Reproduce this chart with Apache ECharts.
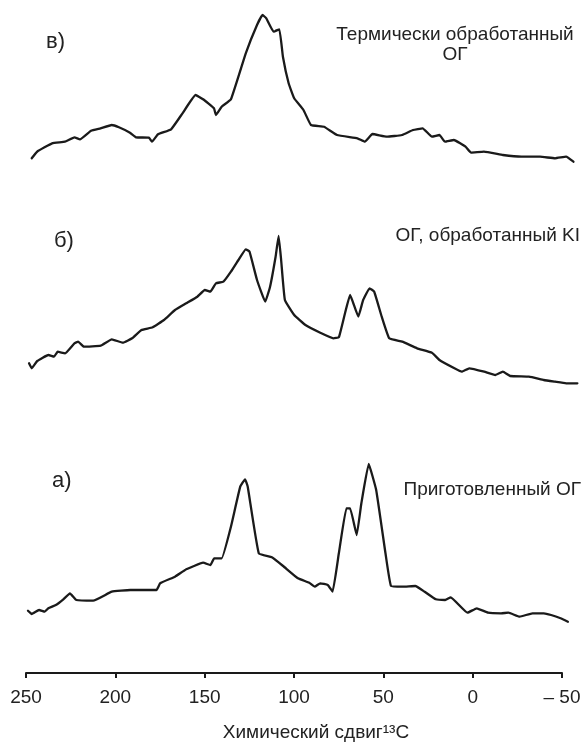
<!DOCTYPE html>
<html>
<head>
<meta charset="utf-8">
<script src="https://cdn.jsdelivr.net/npm/echarts@6/dist/echarts.min.js"></script>
<style>
  html, body { margin: 0; padding: 0; background: #fff; }
  #chart { width: 584px; height: 745px; }
</style>
</head>
<body>
<div id="chart"></div>
<script>
// 13C NMR spectra of graphene oxide: chemical shift (ppm) vs intensity (a.u.)

// в) Термически обработанный ОГ
const shiftV = [246.8, 243.8, 235.4, 228.2, 222.9, 219.8, 213.6, 208.3, 202.0, 198.0, 191.8, 188.4, 181.2, 179.5, 176.1, 168.8, 162.4, 155.1, 150.9, 144.8, 143.7, 140.5, 135.3, 127.0, 120.7, 117.6, 115.5, 111.4, 108.2, 106.2, 103.0, 99.9, 94.7, 90.5, 83.2, 75.9, 64.5, 60.3, 56.1, 48.0, 39.6, 33.4, 28.0, 22.8, 18.6, 15.5, 10.5, 4.0, 0.9, -6.3, -16.9, -27.3, -37.7, -46.1, -52.3, -56.4];
const intV = [16.7, 23.3, 31.7, 33.3, 37.7, 35.7, 44.3, 46.7, 50, 47.7, 42.3, 37.7, 37.3, 33.3, 40.7, 45.7, 61.7, 80, 75.7, 66.7, 60, 68.3, 75.7, 121.7, 150, 160, 156.7, 143.3, 145.7, 118.3, 91.7, 76.7, 65, 50, 48.3, 40, 36.7, 33.3, 41, 38.3, 40, 45, 46.7, 38.3, 40, 33.3, 35, 28.3, 22.3, 23.3, 20, 18.3, 18.3, 16.7, 18.3, 13.3];

// б) ОГ, обработанный KI
const shiftB = [248.3, 246.8, 243.7, 237.5, 234.3, 232.3, 228.1, 222.9, 220.8, 217.6, 208.2, 202.0, 195.8, 190.6, 185.4, 179.1, 172.8, 166.6, 160.3, 154.1, 149.9, 146.8, 143.7, 139.5, 135.3, 131.1, 127.0, 124.9, 120.7, 116.1, 113.4, 110.3, 108.6, 107.2, 105.1, 99.9, 93.6, 85.3, 78.0, 74.9, 71.7, 68.6, 64.0, 61.3, 57.7, 55.1, 50.9, 46.7, 39.4, 31.1, 22.8, 18.6, 10.2, 6.1, 1.9, -6.5, -12.7, -16.9, -21.0, -31.5, -39.8, -46.1, -52.3, -58.6];
const intB = [31.7, 26.7, 34, 40, 38.3, 43.3, 41.7, 51.7, 53.3, 48.3, 49.3, 55.7, 52.3, 56.7, 65, 67.7, 75, 85, 91.7, 98.3, 105, 103.3, 111.7, 113.3, 123.3, 135, 145.7, 143.3, 115, 93.3, 108.3, 138.3, 159, 135, 95, 80, 70, 62.3, 56.7, 57.7, 80, 100, 78.3, 95, 106.7, 103.3, 78.3, 56.7, 53.3, 46.7, 42.3, 35, 26.7, 23.3, 26.7, 23.3, 20, 23.3, 19, 18.3, 15, 13.3, 11.7, 11.7];

// а) Приготовленный ОГ
const shiftA = [248.9, 246.8, 242.7, 239.5, 237.5, 233.3, 229.1, 225.4, 221.8, 212.4, 202.0, 191.6, 177.0, 174.9, 166.6, 160.3, 150.9, 146.8, 144.7, 140.5, 135.3, 130.1, 127.4, 125.9, 119.7, 112.4, 106.1, 97.8, 91.5, 88.4, 85.3, 81.1, 78.4, 74.9, 70.7, 68.6, 64.9, 62.3, 58.2, 54.0, 48.8, 45.7, 39.4, 32.1, 26.9, 20.6, 15.4, 12.3, 2.9, -2.3, -8.6, -15.9, -20.0, -26.3, -33.5, -39.8, -43.9, -49.2, -53.3];
const intA = [19.3, 16, 20, 18.3, 21.7, 25, 30.7, 36.7, 30, 29.3, 38.3, 40, 40, 46.7, 53.3, 60.7, 67.3, 65, 71.7, 71.7, 103.3, 143.3, 150.7, 143.3, 76.7, 72.7, 64, 51.7, 47.3, 43.3, 46.7, 45, 38.3, 76.7, 121.7, 121.7, 95, 126.7, 166, 140, 76.7, 44, 43.3, 44, 38.3, 30.7, 30, 32.7, 17.3, 21.7, 17.3, 16.7, 17.3, 13.3, 16.7, 16.7, 15, 11.7, 8.3];

// x-axis ticks (ppm)
const ppmMin = -50, ppmMax = 250, ppmStep = 50;

const FONT = "'Liberation Sans', Arial, sans-serif";
const INK = '#1a1a1a';

function pairs(xs, ys) { return xs.map((x, i) => [x, ys[i]]); }

// Pixel scale shared by all panels: 300 ppm over 536 px
const pxPerPpm = 536 / (ppmMax - ppmMin);
const specMin = -60;
const specWidth = (ppmMax - specMin) * pxPerPpm;

const panelTops = [5, 225, 460];
const panelH = 170;

const grids = panelTops.map(t => ({ left: 26, top: t, width: specWidth, height: panelH }));
grids.push({ left: 26, top: 672, width: 536, height: 1 });

const xAxes = panelTops.map((t, i) => ({
  type: 'value', gridIndex: i, inverse: true, min: specMin, max: ppmMax, show: false
}));
xAxes.push({
  type: 'value', gridIndex: 3, inverse: true, min: ppmMin, max: ppmMax, interval: ppmStep,
  position: 'bottom',
  axisLine: { show: true, onZero: false, lineStyle: { color: INK, width: 2 } },
  axisTick: { show: true, inside: false, length: 5, lineStyle: { color: INK, width: 2 } },
  splitLine: { show: false },
  axisLabel: {
    margin: 15, color: '#222', fontFamily: FONT, fontSize: 19,
    formatter: v => (v < 0 ? '\u2013 ' + Math.abs(v) : String(v))
  }
});

const yAxes = [0, 1, 2, 3].map(i => ({ type: 'value', gridIndex: i, min: 0, max: i < 3 ? panelH : 1, show: false }));

const lineStyle = { color: INK, width: 2.3, join: 'round', cap: 'round' };
const series = [
  [shiftV, intV], [shiftB, intB], [shiftA, intA]
].map((d, i) => ({
  type: 'line', xAxisIndex: i, yAxisIndex: i, data: pairs(d[0], d[1]),
  showSymbol: false, symbol: 'none', smooth: 0.1, clip: false, silent: true,
  lineStyle
}));

const txt = (x, y, text, size, align) => ({
  type: 'text', x, y, silent: true,
  style: { text, fill: '#222', font: size + 'px ' + FONT, textAlign: align || 'left', textVerticalAlign: 'middle' }
});

const chart = echarts.init(document.getElementById('chart'), null, { renderer: 'canvas' });
chart.setOption({
  animation: false,
  backgroundColor: '#fff',
  grid: grids,
  xAxis: xAxes,
  yAxis: yAxes,
  series,
  graphic: [
    txt(46, 42, 'в)', 22),
    txt(54, 241, 'б)', 22),
    txt(52, 481, 'а)', 22),
    {
      type: 'text', x: 455, y: 45, silent: true,
      style: { text: 'Термически обработанный\nОГ', fill: '#222', font: '19px ' + FONT, textAlign: 'center', textVerticalAlign: 'middle', lineHeight: 20 }
    },
    txt(580, 236, 'ОГ, обработанный KI', 19, 'right'),
    txt(581, 490, 'Приготовленный ОГ', 19, 'right'),
    txt(316, 733, 'Химический сдвиг¹³C', 19, 'center')
  ]
});
</script>
</body>
</html>
